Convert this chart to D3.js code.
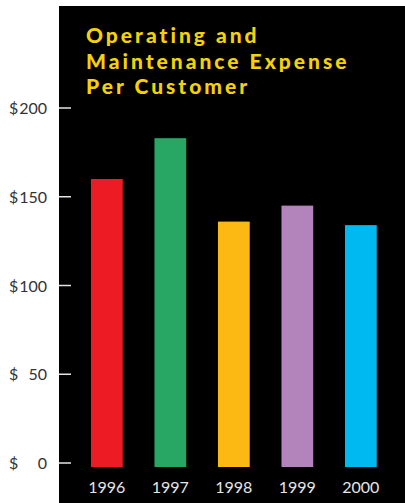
<!DOCTYPE html>
<html>
<head>
<meta charset="utf-8">
<script src="https://cdn.jsdelivr.net/npm/d3@7"></script>
<style>
  body { margin: 0; background: #fff; }
  svg { display: block; }
</style>
</head>
<body>
<div id="chart"></div>
<script>
var width = 405,
    height = 503;

// data
var years = ["1996", "1997", "1998", "1999", "2000"];
var expense = [160, 183, 136, 145, 134];
var barColors = ["#ed1c24", "#28a764", "#fdb913", "#b383bb", "#00b9f1"];
var tickValues = [0, 50, 100, 150, 200];
var titleLines = ["Operating and", "Maintenance Expense", "Per Customer"];

var svg = d3.select("#chart").append("svg")
    .attr("width", width)
    .attr("height", height);

// black panel
svg.append("rect")
    .attr("x", 59)
    .attr("y", 6)
    .attr("width", width - 59)
    .attr("height", height - 6)
    .attr("fill", "#000");

var y = d3.scaleLinear()
    .domain([0, 200])
    .range([463, 108]);

var x = d3.scaleBand()
    .domain(years)
    .range([75.1, 392.6])
    .paddingInner(0.5)
    .paddingOuter(0.25);

// ticks on the left edge of the panel
var ticks = svg.append("g");
ticks.selectAll("line")
    .data(tickValues)
    .enter().append("line")
    .attr("x1", 59)
    .attr("x2", 71)
    .attr("y1", function(d) { return y(d); })
    .attr("y2", function(d) { return y(d); })
    .attr("stroke", "#e6e6e6")
    .attr("stroke-width", 1.5);

ticks.selectAll("text.dollar")
    .data(tickValues)
    .enter().append("text")
    .attr("class", "dollar")
    .attr("x", 9)
    .attr("y", function(d) { return y(d) + 6; })
    .attr("font-family", "Lato, sans-serif")
    .attr("font-size", 16)
    .attr("fill", "#333")
    .text("$");

ticks.selectAll("text.num")
    .data(tickValues)
    .enter().append("text")
    .attr("class", "num")
    .attr("x", 47)
    .attr("y", function(d) { return y(d) + 6; })
    .attr("text-anchor", "end")
    .attr("font-family", "Lato, sans-serif")
    .attr("font-size", 16)
    .attr("fill", "#333")
    .text(function(d) { return d; });

// bars, they run a little past the zero tick
svg.selectAll("rect.bar")
    .data(expense)
    .enter().append("rect")
    .attr("class", "bar")
    .attr("x", function(d, i) { return x(years[i]); })
    .attr("y", function(d) { return y(d); })
    .attr("width", x.bandwidth())
    .attr("height", function(d) { return y(0) + 4 - y(d); })
    .attr("fill", function(d, i) { return barColors[i]; });

svg.selectAll("text.year")
    .data(years)
    .enter().append("text")
    .attr("class", "year")
    .attr("x", function(d) { return x(d) + x.bandwidth() / 2; })
    .attr("y", 493)
    .attr("text-anchor", "middle")
    .attr("font-family", "Lato, sans-serif")
    .attr("font-size", 16)
    .attr("fill", "#e6e6e6")
    .text(function(d) { return d; });

svg.selectAll("text.title")
    .data(titleLines)
    .enter().append("text")
    .attr("class", "title")
    .attr("x", 86)
    .attr("y", function(d, i) { return 43 + i * 25.5; })
    .attr("font-family", "Lato, sans-serif")
    .attr("font-weight", 900)
    .attr("font-size", 21)
    .attr("letter-spacing", 3)
    .attr("fill", "#f5d10a")
    .text(function(d) { return d; });
</script>
</body>
</html>
